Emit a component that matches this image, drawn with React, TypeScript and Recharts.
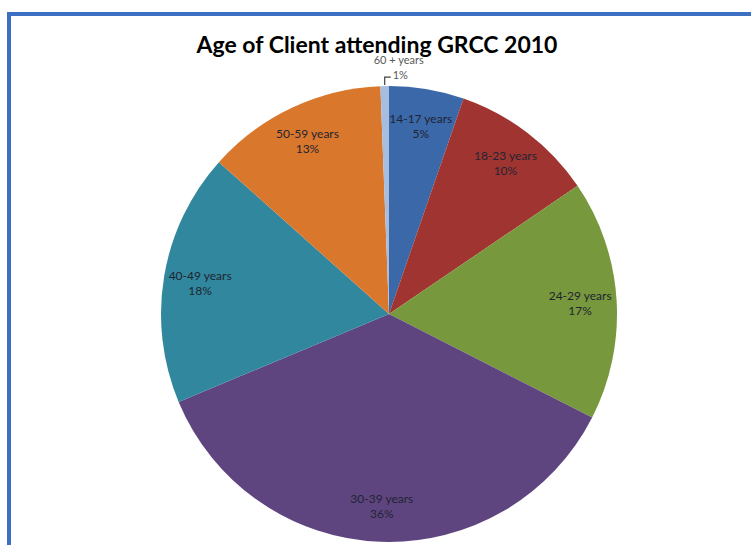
import { PieChart, Pie, Cell } from "recharts";

const ageGroups = [
  "14-17 years",
  "18-23 years",
  "24-29 years",
  "30-39 years",
  "40-49 years",
  "50-59 years",
  "60 + years",
];
const shares = [5.3, 10.2, 17.0, 36.2, 17.9, 12.8, 0.6];
const sliceColors = [
  "#3b68a9",
  "#9f3431",
  "#78983d",
  "#5f4580",
  "#30879e",
  "#d9772c",
  "#a6bde0",
];

const data = ageGroups.map((name, i) => ({ name, value: shares[i] }));

const RADIAN = Math.PI / 180;
const FONT = "Lato, 'Open Sans', sans-serif";

const renderLabel = (props: any) => {
  const { cx, cy, midAngle, outerRadius, percent, name } = props;
  const pct = Math.round(percent * 100) + "%";
  if (percent < 0.02) {
    // tiny slice: label sits outside with a leader line
    const sx = cx + outerRadius * Math.cos(-midAngle * RADIAN);
    const sy = cy + outerRadius * Math.sin(-midAngle * RADIAN);
    return (
      <g>
        <polyline
          points={`${sx},${sy - 1} ${sx},${sy - 9} ${sx + 6},${sy - 9}`}
          fill="none"
          stroke="#404040"
          strokeWidth={1.2}
        />
        <text x={sx + 14} y={sy - 25} fill="#595959" fontSize={11} fontFamily={FONT} textAnchor="middle" dominantBaseline="middle">
          {name}
        </text>
        <text x={sx + 8} y={sy - 10} fill="#595959" fontSize={11} fontFamily={FONT} textAnchor="start" dominantBaseline="middle">
          {pct}
        </text>
      </g>
    );
  }
  const r = outerRadius * 0.84;
  const x = cx + r * Math.cos(-midAngle * RADIAN);
  const y = cy + r * Math.sin(-midAngle * RADIAN);
  return (
    <text x={x} y={y} fill="#1f2433" fontSize={12} fontFamily={FONT} textAnchor="middle">
      <tspan x={x} dy="-0.2em">{name}</tspan>
      <tspan x={x} dy="1.25em">{pct}</tspan>
    </text>
  );
};

export default function App() {
  return (
    <div
      style={{
        position: "fixed",
        left: 0,
        top: 0,
        width: 751,
        height: 545,
        overflow: "hidden",
        background: "#fff",
      }}
    >
      <div
        style={{
          position: "absolute",
          left: 7,
          top: 12,
          width: 800,
          height: 600,
          border: "4px solid #3d70c2",
          boxSizing: "border-box",
        }}
      />
      <div
        style={{
          position: "absolute",
          left: 0,
          top: 30,
          width: 754,
          textAlign: "center",
          fontFamily: FONT,
          fontWeight: 700,
          fontSize: 23,
          color: "#000",
        }}
      >
        Age of Client attending GRCC 2010
      </div>
      <div style={{ position: "absolute", left: 0, top: 0 }}>
        <PieChart width={751} height={545} margin={{ top: 0, right: 0, bottom: 0, left: 0 }}>
          <Pie
            data={data}
            dataKey="value"
            nameKey="name"
            cx={389}
            cy={314}
            outerRadius={228}
            startAngle={90}
            endAngle={-270}
            stroke="none"
            labelLine={false}
            label={renderLabel}
            isAnimationActive={false}
          >
            {data.map((d, i) => (
              <Cell key={d.name} fill={sliceColors[i]} />
            ))}
          </Pie>
        </PieChart>
      </div>
    </div>
  );
}
